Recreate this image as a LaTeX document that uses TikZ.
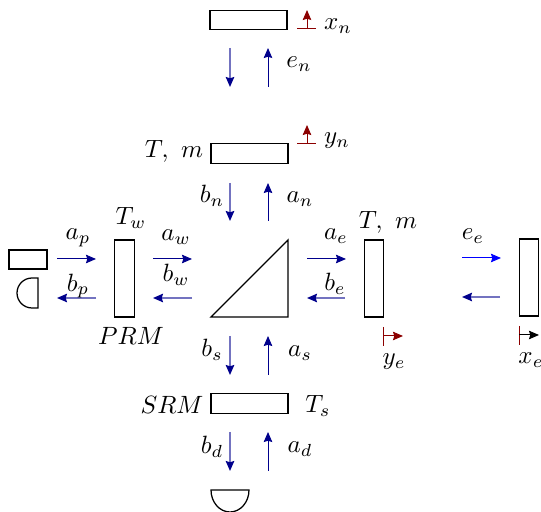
\documentclass[tikz,border=0pt]{standalone}
\usepackage{xcolor}
\usetikzlibrary{arrows.meta, positioning}
\definecolor{beamnavy}{rgb}{0,0,0.55}
\definecolor{sensred}{rgb}{0.55,0,0}
\tikzstyle{hmirror} = [rectangle, minimum width=30.8pt, minimum height=7.8pt, inner sep=0pt, draw=black, line width=0.5pt]
\tikzstyle{vmirror} = [rectangle, minimum width=7.8pt, minimum height=30.8pt, inner sep=0pt, draw=black, line width=0.5pt]
\tikzstyle{laser} = [rectangle, minimum width=15.2pt, minimum height=7.6pt, inner sep=0pt, draw=black, line width=0.5pt]
\tikzstyle{inbeam} = [line width=0.4pt, draw=beamnavy, -{Stealth[length=4pt,width=3.4pt,inset=0.5pt,color=beamnavy]}]
\tikzstyle{outbeam} = [line width=0.6pt, draw=beamnavy!55, -{Stealth[length=4pt,width=3.4pt,inset=0.5pt,color=beamnavy]}]
\tikzstyle{pumpbeam} = [line width=0.4pt, draw=blue, -{Stealth[length=4pt,width=3.4pt,inset=0.5pt,color=blue]}]
\tikzstyle{redbeam} = [line width=0.4pt, draw=sensred, -{Stealth[length=4pt,width=3.4pt,inset=0.5pt,color=sensred]}]
\tikzstyle{blackbeam} = [line width=0.4pt, draw=black, -{Stealth[length=4pt,width=3.4pt,inset=0.5pt,color=black]}]
\tikzstyle{tick} = [line width=0.4pt, draw=sensred]
\tikzstyle{lbl} = [inner sep=0pt]

\begin{document}
\begin{tikzpicture}[x=0.4pt, y=-0.4pt]
\useasboundingbox (0,0) rectangle (541,512);

% Mirrors
\node (endn) [hmirror] at (248.5,20) {};
\node (itmn) [hmirror] at (249.5,153.5) {};
\node (prm) [vmirror] at (124.5,278.5) {};
\node (itme) [vmirror] at (374,278.5) {};
\node (ende) [vmirror] at (529,277.5) {};
\node (srm) [hmirror] at (249.5,403.5) {};
\node (pump) [laser] at (28,259.5) {};

% Beam splitter and detectors
\coordinate (bsa) at (211,317);
\coordinate (bsb) at (288,240);
\coordinate (bsc) at (288,317);
\draw [line width=0.5pt] (bsa) -- (bsb) -- (bsc) -- cycle;
\draw [line width=0.5pt] (38,278) -- (32,278) arc (90:270:15 and -15) -- (38,308) -- cycle;
\draw [line width=0.5pt] (211,490) -- (249,490) arc (0:180:19 and 22) -- cycle;

% North arm
\coordinate (en1) at (230,48); \coordinate (en2) at (230,87);
\coordinate (en3) at (268,87); \coordinate (en4) at (268,48);
\draw [outbeam] (en1) -- (en2);
\draw [inbeam] (en3) -- (en4);
\coordinate (bn1) at (230,183); \coordinate (bn2) at (230,221);
\coordinate (an1) at (268,221); \coordinate (an2) at (268,183);
\draw [outbeam] (bn1) -- (bn2);
\draw [inbeam] (an1) -- (an2);

% West arm
\coordinate (ap1) at (57,259); \coordinate (ap2) at (96,259);
\coordinate (bp1) at (96,298); \coordinate (bp2) at (57,298);
\draw [inbeam] (ap1) -- (ap2);
\draw [outbeam] (bp1) -- (bp2);
\coordinate (aw1) at (153,259); \coordinate (aw2) at (192,259);
\coordinate (bw1) at (192,298); \coordinate (bw2) at (153,298);
\draw [inbeam] (aw1) -- (aw2);
\draw [outbeam] (bw1) -- (bw2);

% East arm
\coordinate (ae1) at (307,259); \coordinate (ae2) at (346,259);
\coordinate (be1) at (345,298); \coordinate (be2) at (307,298);
\draw [inbeam] (ae1) -- (ae2);
\draw [outbeam] (be1) -- (be2);
\coordinate (ee1) at (462,258); \coordinate (ee2) at (501,258);
\coordinate (ee3) at (500,297); \coordinate (ee4) at (462,297);
\draw [pumpbeam] (ee1) -- (ee2);
\draw [outbeam] (ee3) -- (ee4);

% South arm
\coordinate (bs1) at (230,336); \coordinate (bs2) at (230,375);
\coordinate (as1) at (268,375); \coordinate (as2) at (268,336);
\draw [outbeam] (bs1) -- (bs2);
\draw [inbeam] (as1) -- (as2);
\coordinate (bd1) at (230,432); \coordinate (bd2) at (230,471);
\coordinate (ad1) at (268,471); \coordinate (ad2) at (268,432);
\draw [outbeam] (bd1) -- (bd2);
\draw [inbeam] (ad1) -- (ad2);

% Displacements
\coordinate (xn0) at (307,29); \coordinate (xn1) at (307,10);
\coordinate (xna) at (297,29); \coordinate (xnb) at (316,29);
\draw [tick] (xna) -- (xnb);
\draw [redbeam] (xn0) -- (xn1);
\coordinate (yn0) at (307,144); \coordinate (yn1) at (307,125);
\coordinate (yna) at (297,144); \coordinate (ynb) at (316,144);
\draw [tick] (yna) -- (ynb);
\draw [redbeam] (yn0) -- (yn1);
\coordinate (ye0) at (383,336); \coordinate (ye1) at (403,336);
\coordinate (yea) at (383,327); \coordinate (yeb) at (383,346);
\draw [tick] (yea) -- (yeb);
\draw [redbeam] (ye0) -- (ye1);
\coordinate (xe0) at (519,335); \coordinate (xe1) at (539,335);
\coordinate (xea) at (519,326); \coordinate (xeb) at (519,345);
\draw [tick] (xea) -- (xeb);
\draw [blackbeam] (xe0) -- (xe1);

% Labels
\node (lxn) [lbl] at (338,26) {$x_n$};
\node (len) [lbl] at (299,64) {$e_n$};
\node (lmn) [lbl] at (174,151) {$T,\ m$};
\node (lyn) [lbl] at (337,141) {$y_n$};
\node (lbn) [lbl] at (212,196) {$b_n$};
\node (lan) [lbl] at (300,199) {$a_n$};
\node (ltw) [lbl] at (131,218) {$T_w$};
\node (lap) [lbl] at (78,238) {$a_p$};
\node (lbp) [lbl] at (78,286) {$b_p$};
\node (law) [lbl] at (176,237) {$a_w$};
\node (lbw) [lbl] at (176,275) {$b_w$};
\node (lprm) [lbl] at (131,336) {$PRM$};
\node (lae) [lbl] at (336,236) {$a_e$};
\node (lbe) [lbl] at (335,284) {$b_e$};
\node (lme) [lbl] at (388,222) {$T,\ m$};
\node (lee) [lbl] at (473,236) {$e_e$};
\node (lye) [lbl] at (394,362) {$y_e$};
\node (lxe) [lbl] at (531,360) {$x_e$};
\node (lbs) [lbl] at (212,350) {$b_s$};
\node (las) [lbl] at (300,353) {$a_s$};
\node (lsrm) [lbl] at (172,405) {$SRM$};
\node (lts) [lbl] at (318,406) {$T_s$};
\node (lbd) [lbl] at (212,447) {$b_d$};
\node (lad) [lbl] at (300,449) {$a_d$};

\end{tikzpicture}
\end{document}
